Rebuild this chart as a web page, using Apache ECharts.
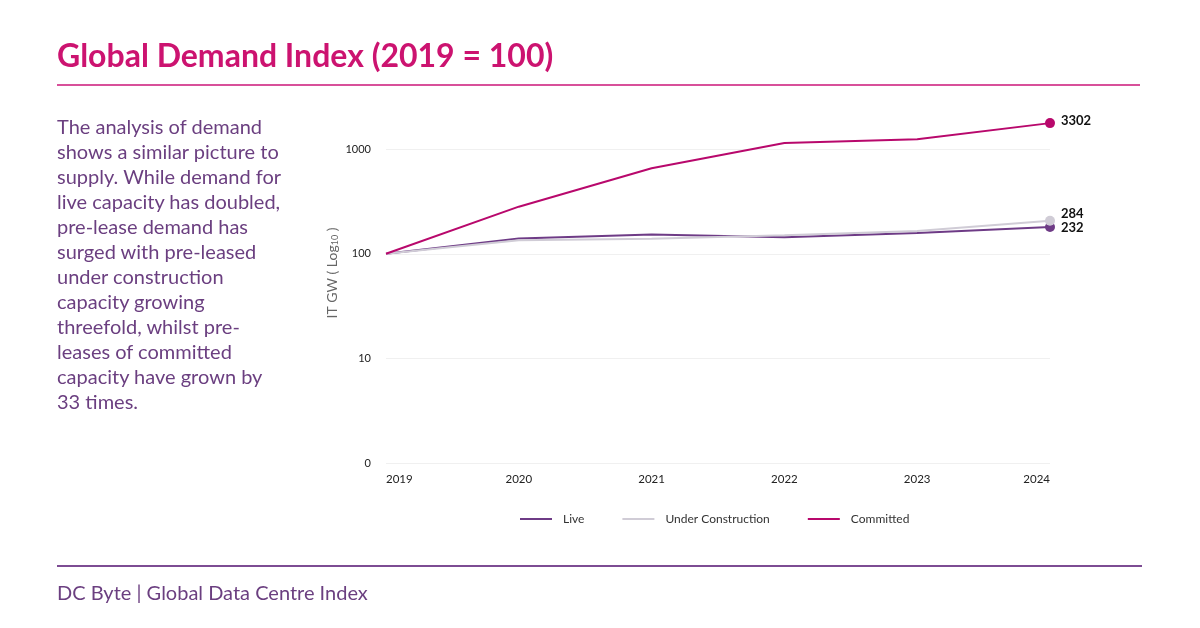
<!DOCTYPE html>
<html>
<head>
<meta charset="utf-8">
<script src="https://cdn.jsdelivr.net/npm/echarts@6/dist/echarts.min.js"></script>
<style>
  html, body { margin: 0; padding: 0; background: #fff; }
  body { width: 1200px; height: 628px; position: relative; overflow: hidden; font-family: Lato, "Open Sans", sans-serif; }
  #title { position: absolute; left: 57px; top: 35px; font-size: 32px; font-weight: bold; color: #cc1370; }
  #rule1 { position: absolute; left: 57px; top: 84px; width: 1083px; height: 2px; background: #d8509a; }
  #desc { position: absolute; left: 57px; top: 114px; width: 228px; font-size: 20px; line-height: 25px; color: #6b3f80; }
  #rule2 { position: absolute; left: 57px; top: 565px; width: 1085px; height: 2px; background: #7d4c93; }
  #footer { position: absolute; left: 57px; top: 580px; font-size: 20px; color: #6b3f80; }
  #chart { position: absolute; left: 0; top: 0; width: 1200px; height: 628px; }
</style>
</head>
<body>
<div id="chart"></div>
<div id="title">Global Demand Index (2019 = 100)</div>
<div id="rule1"></div>
<div id="desc">The analysis of demand shows a similar picture to supply. While demand for live capacity has doubled, pre-lease demand has surged with pre-leased under construction capacity growing threefold, whilst pre-leases of committed capacity have grown by 33 times.</div>
<div id="rule2"></div>
<div id="footer">DC Byte | Global Data Centre Index</div>
<script>
const years = ['2019', '2020', '2021', '2022', '2023', '2024'];
const live = [100, 140, 153, 144, 158, 180];
const underConstruction = [100, 135, 139, 150, 165, 207];
const committed = [100, 282, 658, 1148, 1247, 1774];
const endLabels = { 'Live': '232', 'Under Construction': '284', 'Committed': '3302' };
const yTicks = [1, 10, 100, 1000];

const colors = { 'Live': '#6e3b86', 'Under Construction': '#d0ccd6', 'Committed': '#b8086c' };

function makeSeries(name, values, labelOffset) {
  return {
    name: name,
    type: 'line',
    smooth: false,
    showSymbol: true,
    lineStyle: { width: 2, color: colors[name] },
    itemStyle: { color: colors[name] },
    emphasis: { disabled: true },
    data: values.map(function (v, i) {
      const last = i === values.length - 1;
      return {
        value: v,
        symbol: 'circle',
        symbolSize: last ? 10 : 0,
        label: last ? {
          show: true, position: 'right', distance: 6, offset: labelOffset,
          formatter: endLabels[name], fontFamily: 'Lato', fontWeight: 'bold', fontSize: 13, color: '#111'
        } : { show: false }
      };
    })
  };
}

const chart = echarts.init(document.getElementById('chart'));
chart.setOption({
  animation: false,
  textStyle: { fontFamily: 'Lato' },
  grid: { left: 386, right: 150, top: 117, bottom: 165, containLabel: false },
  legend: {
    top: 508, left: 515,
    icon: 'rect', itemWidth: 32, itemHeight: 2, itemGap: 38,
    textStyle: { fontFamily: 'Lato', fontSize: 12, color: '#333', padding: [0, 0, 0, 6] },
    data: ['Live', 'Under Construction', 'Committed']
  },
  xAxis: {
    type: 'category', data: years, boundaryGap: false,
    axisLine: { show: false }, axisTick: { show: false },
    axisLabel: { color: '#222', fontSize: 11.5, margin: 10, fontFamily: 'Lato', alignMinLabel: 'left', alignMaxLabel: 'right' }
  },
  yAxis: {
    type: 'log', logBase: 10, min: 1, max: 2030,
    name: 'IT GW ( Log{sub|10} )', nameLocation: 'middle', nameGap: 46, nameRotate: 90,
    nameMoveOverlap: false,
    nameTextStyle: {
      color: '#666', fontSize: 14, fontFamily: 'Lato', padding: [0, 0, 0, 34],
      rich: { sub: { fontSize: 9, color: '#666', verticalAlign: 'bottom', padding: [6, 0, 0, 0] } }
    },
    axisLine: { show: false }, axisTick: { show: false },
    splitLine: { show: true, showMaxLine: false, lineStyle: { color: '#f0f0f0', width: 1 } },
    axisLabel: {
      color: '#222', fontSize: 11, margin: 15, fontFamily: 'Lato', showMaxLabel: false,
      formatter: function (v) {
        const r = Math.round(v);
        if (yTicks.indexOf(r) < 0) return '';
        return r === 1 ? '0' : String(r);
      }
    }
  },
  series: [
    makeSeries('Live', live, [0, 1]),
    makeSeries('Under Construction', underConstruction, [0, -7]),
    makeSeries('Committed', committed, [0, -2])
  ]
});
</script>
</body>
</html>
